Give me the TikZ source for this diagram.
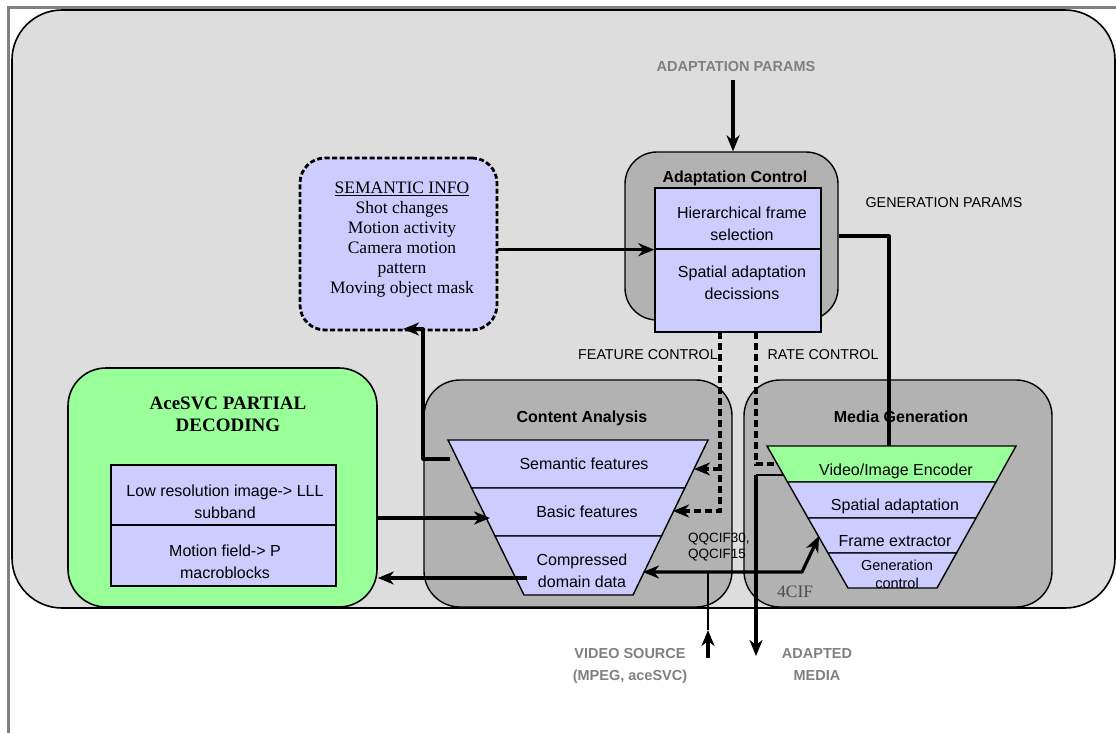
\documentclass[tikz,border=0pt]{standalone}
\usepackage{fontspec}
\setmainfont{Liberation Serif}
\setsansfont{Liberation Sans}
\usetikzlibrary{arrows.meta}
\definecolor{bggray}{HTML}{DDDDDD}
\definecolor{boxgray}{HTML}{B2B2B2}
\definecolor{lav}{HTML}{CCCCFF}
\definecolor{grn}{HTML}{99FF99}
\definecolor{lblgray}{HTML}{808080}
\definecolor{cifgray}{HTML}{4D4D4D}
\begin{document}
\begin{tikzpicture}[x=1pt,y=-1pt,
  box/.style={draw=black, line width=1.4pt, rectangle, inner sep=0pt},
  graybox/.style={box, fill=boxgray, rounded corners=36pt},
  lavbox/.style={box, fill=lav},
  layer/.style={draw=black, line width=1.4pt, line join=miter},
  conn/.style={line width=3.2pt, line join=round},
  thinconn/.style={line width=1.2pt},
  dconn/.style={line width=3.2pt, dash pattern=on 7pt off 4pt},
  arr/.style={-{Stealth[length=16pt,width=13pt,inset=5pt]}},
  darr/.style={{Stealth[length=16pt,width=13pt,inset=5pt]}-{Stealth[length=16pt,width=13pt,inset=5pt]}},
  txt/.style={inner sep=0pt, align=center},
  sansbody/.style={txt, font=\sffamily\fontsize{16}{22}\selectfont},
  sanssmall/.style={txt, font=\sffamily\fontsize{14.5}{18}\selectfont},
  title/.style={txt, font=\sffamily\bfseries\fontsize{16}{22}\selectfont},
  label/.style={txt, font=\sffamily\fontsize{14.3}{18}\selectfont},
  glabel/.style={txt, text=lblgray, font=\sffamily\bfseries\fontsize{14.5}{22}\selectfont},
  serifbody/.style={txt, font=\rmfamily\fontsize{17.5}{20}\selectfont},
  seriftitle/.style={txt, font=\rmfamily\bfseries\fontsize{19}{22}\selectfont},
]
\useasboundingbox (0,0) rectangle (1116,733);
% outer frame (top and left only)
\draw[lblgray, line width=3pt] (8,733) -- (8,7.5) -- (1116,7.5);

% main background box
\node[box, line width=1.6pt, fill=bggray, rounded corners=50pt,
      minimum width=1103pt, minimum height=598pt] (main) at (563.5,309) {};

% AceSVC box
\node[box, line width=1.6pt, fill=grn, rounded corners=38pt,
      minimum width=309pt, minimum height=239pt] (acesvc) at (222.5,487.5) {};
\node[seriftitle, anchor=north] (acetitle) at (228,393.6) {\strut AceSVC PARTIAL\\DECODING};
\node[lavbox, minimum width=225pt, minimum height=60pt] (lowbox) at (223.5,495) {};
\node[lavbox, minimum width=225pt, minimum height=61pt] (motbox) at (223.5,555.5) {};
\node[sansbody, anchor=north] (lowtxt) at (225,480.6) {\strut Low resolution image-> LLL\\subband};
\node[sansbody, anchor=north] (mottxt) at (225,540.6) {\strut Motion field-> P\\macroblocks};

% Content analysis box
\node[graybox, minimum width=308pt, minimum height=227pt] (content) at (578,493.5) {};
\node[title, anchor=base] (contitle) at (582,422) {Content Analysis};
\filldraw[layer, fill=lav] (448,440) -- (708,440) -- (684.8,488) -- (471.5,488) -- cycle;
\filldraw[layer, fill=lav] (471.5,488) -- (684.8,488) -- (661.5,536) -- (495,536) -- cycle;
\filldraw[layer, fill=lav] (495,536) -- (661.5,536) -- (633,595) -- (524,595) -- cycle;
\node[sansbody, anchor=base] (semf) at (584,469) {Semantic features};
\node[sansbody, anchor=base] (basf) at (587,517) {Basic features};
\node[sansbody, anchor=north] (compd) at (582,549.6) {\strut Compressed\\domain data};

% Media generation box
\node[graybox, minimum width=308pt, minimum height=227pt] (media) at (898,493.5) {};
\node[title, anchor=base] (medtitle) at (901,422) {Media Generation};
\filldraw[layer, fill=grn] (767,446) -- (1016,446) -- (996,482) -- (787.5,482) -- cycle;
\filldraw[layer, fill=lav] (787.5,482) -- (996,482) -- (976,518) -- (808,518) -- cycle;
\filldraw[layer, fill=lav] (808,518) -- (976,518) -- (956.5,553) -- (828,553) -- cycle;
\filldraw[layer, fill=lav] (828,553) -- (956.5,553) -- (937,588) -- (848,588) -- cycle;
\node[sansbody, anchor=base] (enc) at (896,475) {Video/Image Encoder};
\node[sansbody, anchor=base] (spad) at (895,510) {Spatial adaptation};
\node[sansbody, anchor=base] (frex) at (895,546) {Frame extractor};
\node[sanssmall, anchor=north] (genc) at (897,557.4) {\strut Generation\\control};

% Adaptation control box
\node[graybox, rounded corners=32pt, minimum width=213pt, minimum height=168pt] (adapt) at (731.5,236) {};
\node[title, anchor=base] (adtitle) at (735,182) {Adaptation Control};
\node[lavbox, minimum width=166pt, minimum height=61pt] (hierbox) at (738,218.5) {};
\node[lavbox, minimum width=166pt, minimum height=83pt] (spatbox) at (738,290.5) {};
\node[sansbody, anchor=north] (hiertxt) at (742,202.6) {\strut Hierarchical frame\\selection};
\node[sansbody, anchor=north] (spattxt) at (742,261.6) {\strut Spatial adaptation\\decissions};

% Semantic info box
\node[box, fill=lav, line width=2.8pt, dash pattern=on 5pt off 2.5pt, rounded corners=25pt,
      minimum width=197pt, minimum height=172pt] (sem) at (398.5,244) {};
\node[serifbody, anchor=north] (semtxt) at (402,179) {\strut\underline{SEMANTIC INFO}\\Shot changes\\Motion activity\\Camera motion\\pattern\\Moving object mask};

% labels
\node[glabel, anchor=base] (adparams) at (736,72) {ADAPTATION PARAMS};
\node[label, anchor=base] (genparams) at (944,207) {GENERATION PARAMS};
\node[label, anchor=base] (featctl) at (648,359) {FEATURE CONTROL};
\node[label, anchor=base] (ratectl) at (823,359) {RATE CONTROL};
\node[txt, align=left, anchor=north west, font=\sffamily\fontsize{13.5}{16}\selectfont] (qqcif) at (688,530.8) {\strut QQCIF30,\\QQCIF15};
\node[txt, anchor=base west, text=cifgray, font=\rmfamily\fontsize{17.5}{20}\selectfont] (cif4) at (777,597) {4CIF};
\node[glabel, anchor=north] (vsrc) at (630,642.6) {\strut VIDEO SOURCE\\(MPEG, aceSVC)};
\node[glabel, anchor=north] (admedia) at (817,642.6) {\strut ADAPTED\\MEDIA};

% coordinates for connector ends
\coordinate (adin) at (733,80);
\coordinate (encin) at (889,446);
\coordinate (fc0) at (720,332);
\coordinate (fc1) at (720,511);
\coordinate (fcb) at (720,469);
\coordinate (basin) at (673,511);
\coordinate (semin) at (694,469);
\coordinate (rc0) at (756,332);
\coordinate (rc2) at (777,464);
\coordinate (am0) at (783.5,475);
\coordinate (am1) at (756,475);
\coordinate (am2) at (756,656);
\coordinate (vs0) at (708,658);
\coordinate (vs1) at (708,630);
\coordinate (vs2) at (708,572);
\coordinate (cdin) at (643,572);
\coordinate (fx0) at (802,572);
\coordinate (fxin) at (819,536);
\coordinate (basl) at (490,518);
\coordinate (cdl) at (527,578);
\coordinate (sfl) at (450,459);
\coordinate (sc1) at (423,459);
\coordinate (sc2) at (423,329);
\coordinate (semin2) at (403,329);

% connectors
\draw[conn, arr] (adin) -- (adin |- adapt.north);
\draw[conn, arr] (sem.east |- hierbox.south west) -- (hierbox.south west);
\draw[conn] (adapt.east) -| (encin);
\draw[dconn, arr] (fc0) -- (fc1) -- (basin);
\draw[dconn, arr] (fcb) -- (semin);
\draw[dconn] (rc0) |- (rc2);
\draw[thinconn] (am0) -- (am1);
\draw[conn, arr] (am1) -- (am2);
\draw[conn, arr] (vs0) -- (vs1);
\draw[thinconn] (vs1) -- (vs2);
\draw[conn, darr] (cdin) -- (fx0) -- (fxin);
\draw[conn, arr] (acesvc.east |- basl) -- (basl);
\draw[conn, arr] (cdl) -- (acesvc.east |- cdl);
\draw[conn, arr] (sfl) -- (sc1) -- (sc2) -- (semin2);
\end{tikzpicture}
\end{document}
